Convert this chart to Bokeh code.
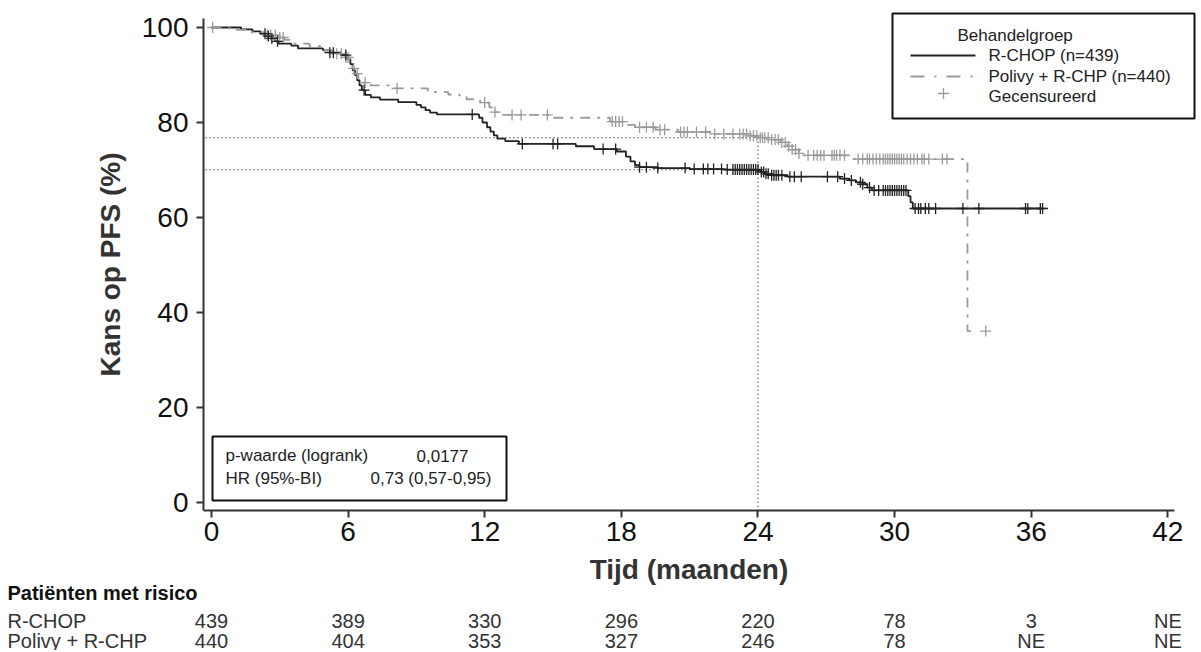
import numpy as np
from bokeh.plotting import figure
from bokeh.models import Range1d, FixedTicker, Label, LinearAxis, ColumnDataSource
from bokeh.core.properties import value
from bokeh.embed import file_html
from bokeh.resources import INLINE

# ---------------- data ----------------
rchop_t = [0, 1.3, 1.8, 2.15, 2.4, 2.6, 2.8, 2.95, 3.5, 3.8, 4.9, 5.2, 5.7, 6.0, 6.1, 6.2, 6.3, 6.4, 6.5,
           6.6, 6.75, 7.0, 7.4, 8.2, 9.0, 9.2, 9.4, 9.6, 9.9, 11.75, 11.9, 12.1, 12.25, 12.4, 12.55, 12.9,
           13.5, 16.0, 16.8, 17.8, 18.2, 18.4, 18.6, 18.8, 19.6, 21.0, 22.5, 24.1, 24.3, 24.6, 25.3, 27.6,
           28.0, 28.3, 28.6, 28.8, 29.0, 30.6, 30.7, 30.8, 36.5]
rchop_s = [100, 99.6, 99.2, 98.7, 98.2, 97.7, 97.1, 96.6, 96.2, 95.6, 95.2, 94.7, 94.2, 93.3, 92.3, 91.0,
           90.0, 88.9, 87.8, 86.8, 85.8, 85.3, 84.8, 84.3, 83.7, 83.2, 82.6, 82.1, 81.7, 81.0, 80.0, 79.0,
           78.1, 77.3, 76.6, 76.1, 75.5, 75.0, 74.4, 73.9, 72.8, 71.8, 71.0, 70.6, 70.4, 70.2, 70.1, 69.6,
           69.2, 68.9, 68.6, 68.2, 67.8, 67.4, 67.0, 66.3, 65.7, 64.5, 63.2, 61.9, 61.9]

polivy_t = [0, 0.8, 1.5, 2.3, 2.9, 3.2, 3.5, 4.3, 4.9, 5.3, 5.8, 6.05, 6.2, 6.3, 6.45, 6.6, 7.0, 8.0, 9.5,
            10.4, 10.9, 11.2, 11.8, 12.2, 12.4, 12.7, 15.0, 17.5, 18.2, 18.6, 19.5, 20.5, 22.0, 23.6, 24.0,
            24.5, 25.0, 25.3, 25.5, 25.8, 26.0, 28.2, 33.2, 33.55]
polivy_s = [100, 99.5, 99.0, 98.4, 97.9, 97.4, 96.6, 96.1, 95.2, 94.5, 93.7, 92.6, 91.4, 90.3, 89.2, 88.4,
            87.8, 87.2, 86.4, 85.9, 85.4, 84.9, 84.2, 83.2, 82.2, 81.6, 81.0, 80.2, 79.5, 79.0, 78.5, 78.0,
            77.6, 77.2, 76.8, 76.4, 75.8, 75.0, 74.3, 73.5, 73.1, 72.3, 36.1, 36.1]

rchop_censor = [2.35, 2.5, 2.65, 2.9, 5.2, 5.35, 5.9, 6.7, 11.45, 13.65, 15.0, 15.2, 17.2, 17.75, 18.8,
                19.1, 19.6, 20.8, 21.2, 21.6, 21.8, 22.05, 22.4, 22.65, 22.9, 23.0, 23.1, 23.2, 23.3, 23.4,
                23.5, 23.6, 23.7, 23.8, 23.9, 24.0, 24.15, 24.25, 24.35, 24.45, 24.6, 24.7, 24.8, 24.9,
                25.05, 25.4, 25.6, 25.9, 27.05, 27.5, 27.8, 28.1, 28.5, 28.6, 28.9, 29.1, 29.3, 29.5, 29.6,
                29.7, 29.8, 29.9, 30.0, 30.1, 30.2, 30.3, 30.4, 30.5, 30.9, 31.05, 31.15, 31.35, 31.5, 31.8,
                33.0, 33.7, 35.75, 35.85, 36.4, 36.5]
polivy_censor = [0.05, 2.45, 2.6, 2.8, 3.0, 3.15, 5.5, 5.7, 5.9, 6.0, 6.25, 6.4, 6.75, 8.15, 12.0, 12.45,
                 13.2, 13.6, 14.75, 17.6, 17.75, 17.9, 18.05, 18.8, 19.1, 19.4, 19.7, 19.9, 20.6, 20.75,
                 20.9, 21.3, 21.7, 22.1, 22.5, 22.9, 23.2, 23.35, 23.5, 23.65, 23.8, 23.95, 24.1, 24.2,
                 24.3, 24.45, 24.6, 24.75, 24.9, 25.05, 25.2, 25.35, 25.5, 25.65, 25.8, 26.2, 26.45, 26.6,
                 26.75, 26.9, 27.25, 27.35, 27.45, 27.6, 27.8, 28.4, 28.6, 28.8, 28.9, 29.05, 29.2, 29.35,
                 29.5, 29.6, 29.7, 29.8, 29.9, 30.0, 30.1, 30.2, 30.3, 30.4, 30.55, 30.7, 30.85, 31.0,
                 31.2, 31.3, 31.5, 32.1, 32.3, 34.0]

landmark_month = 24
landmark_polivy = 76.8
landmark_rchop = 70.1

x_ticks = [0, 6, 12, 18, 24, 30, 36, 42]
y_ticks = [0, 20, 40, 60, 80, 100]

risk_times = [0, 6, 12, 18, 24, 30, 36, 42]
risk_rchop = ["439", "389", "330", "296", "220", "78", "3", "NE"]
risk_polivy = ["440", "404", "353", "327", "246", "78", "NE", "NE"]
risk_groups = ["R-CHOP", "Polivy + R-CHP"]
risk_title = "Patiënten met risico"

legend_title = "Behandelgroep"
legend_labels = ["R-CHOP (n=439)", "Polivy + R-CHP (n=440)", "Gecensureerd"]
stats_rows = [("p-waarde (logrank)", "0,0177"), ("HR (95%-BI)", "0,73 (0,57-0,95)")]

# ---------------- layout helpers (page pixel -> data) ----------------
X0_PX, PX_PER_X = 211.0, 22.77
Y0_PX, PX_PER_Y = 502.0, 4.75
AX_L, AX_B = 203, 510          # where the spines sit (page px)
CAN_W, CAN_H = 1199, 650


def dx(px):
    return (px - X0_PX) / PX_PER_X


def dy(py):
    return (Y0_PX - py) / PX_PER_Y


FONT = "Liberation Sans"
BLACK = "#222222"
GRAY = "#9a9a9a"

p = figure(frame_width=CAN_W, frame_height=CAN_H, min_border=0,
           x_range=Range1d(dx(0), dx(CAN_W)), y_range=Range1d(dy(CAN_H), dy(0)),
           output_backend="svg", toolbar_location=None, x_axis_type=None, y_axis_type=None)
p.outline_line_color = None
p.xgrid.visible = False
p.ygrid.visible = False
p.background_fill_color = "white"

xaxis = LinearAxis(ticker=FixedTicker(ticks=x_ticks), bounds=(dx(AX_L), 42.3),
                   fixed_location=dy(AX_B), axis_label="Tijd (maanden)")
yaxis = LinearAxis(ticker=FixedTicker(ticks=y_ticks), bounds=(dy(AX_B), 101.9),
                   fixed_location=dx(AX_L), axis_label="Kans op PFS (%)")
for ax in (xaxis, yaxis):
    ax.axis_line_width = 2
    ax.axis_line_color = "#333333"
    ax.major_tick_line_width = 2
    ax.major_tick_line_color = "#333333"
    ax.major_tick_out = 7
    ax.major_tick_in = 0
    ax.minor_tick_line_color = None
    ax.major_label_text_font = FONT
    ax.major_label_text_font_size = "28px"
    ax.major_label_text_color = "#111111"
    ax.axis_label_text_font = FONT
    ax.axis_label_text_font_size = "28px"
    ax.axis_label_text_font_style = "bold"
    ax.axis_label_text_color = "#333333"
xaxis.major_label_standoff = 4
xaxis.axis_label_standoff = 10
yaxis.major_label_standoff = 8
yaxis.axis_label_standoff = 13
p.add_layout(xaxis, "below")
p.add_layout(yaxis, "left")

# landmark dotted lines
x_left = dx(AX_L + 2)
for yv in (landmark_polivy, landmark_rchop):
    p.line([x_left, landmark_month], [yv, yv], line_color="#333333", line_dash="1 3", line_width=1.3)
p.line([landmark_month, landmark_month], [landmark_polivy, dy(AX_B)], line_color="#333333",
       line_dash="1 3", line_width=1.3)

# curves
p.step(rchop_t, rchop_s, mode="after", line_color=BLACK, line_width=1.8)
p.step(polivy_t, polivy_s, mode="after", line_color=GRAY, line_width=1.8, line_dash="10 7 3 7")


def surv_at(times, ts, ss):
    ts = np.asarray(ts)
    ss = np.asarray(ss)
    idx = np.searchsorted(ts, np.asarray(times), side="right") - 1
    return ss[np.clip(idx, 0, len(ss) - 1)]


p.scatter(polivy_censor, surv_at(polivy_censor, polivy_t, polivy_s), marker="cross", size=11,
          line_color=GRAY, line_width=1.3)
p.scatter(rchop_censor, surv_at(rchop_censor, rchop_t, rchop_s), marker="cross", size=11,
          line_color=BLACK, line_width=1.3)

# legend box (drawn manually)
p.quad(left=[dx(892)], right=[dx(1194)], top=[dy(13)], bottom=[dy(118)], fill_color=None,
       line_color="#111111", line_width=2)
p.add_layout(Label(x=dx(957), y=dy(35), text=legend_title, text_font=FONT, text_font_size="17px",
                   text_baseline="middle", text_color=BLACK))
row_y = [55, 76, 96]
p.line([dx(910), dx(975)], [dy(row_y[0])] * 2, line_color=BLACK, line_width=1.8)
p.line([dx(910), dx(975)], [dy(row_y[1])] * 2, line_color=GRAY, line_width=1.8, line_dash="14 10 2 10")
p.scatter([dx(943)], [dy(row_y[2] - 3)], marker="cross", size=11, line_color=GRAY, line_width=1.3)
for lab, yy in zip(legend_labels, row_y):
    p.add_layout(Label(x=dx(988), y=dy(yy), text=lab, text_font=FONT, text_font_size="17px",
                       text_baseline="middle", text_color=BLACK))

# stats box
p.quad(left=[dx(212)], right=[dx(506)], top=[dy(436)], bottom=[dy(500)], fill_color=None,
       line_color="#111111", line_width=2)
for (lab, val), yy, vx in zip(stats_rows, [455, 478], [416, 370]):
    p.add_layout(Label(x=dx(225), y=dy(yy), text=lab, text_font=FONT, text_font_size="17px",
                       text_baseline="middle", text_color=BLACK))
    p.add_layout(Label(x=dx(vx), y=dy(yy), text=val, text_font=FONT, text_font_size="17px",
                       text_baseline="middle", text_color=BLACK))

# ---------------- risk table ----------------
row_py = [620, 640]
p.text(x=[dx(7)], y=[dy(592)], text=[risk_title], text_font=value(FONT), text_font_size="20px",
       text_font_style="bold", text_baseline="middle", text_color="#111111")
p.text(x=[dx(7)] * 2, y=[dy(v) for v in row_py], text=risk_groups, text_font=value(FONT),
       text_font_size="20px", text_baseline="middle", text_color="#333333")
for row, yy in zip((risk_rchop, risk_polivy), row_py):
    src = ColumnDataSource(dict(x=risk_times, y=[dy(yy)] * len(risk_times), txt=row))
    p.text(x="x", y="y", text="txt", source=src, text_font=value(FONT), text_font_size="20px",
           text_align="center", text_baseline="middle", text_color="#333333")

open("out.html", "w").write(file_html(p, INLINE))
